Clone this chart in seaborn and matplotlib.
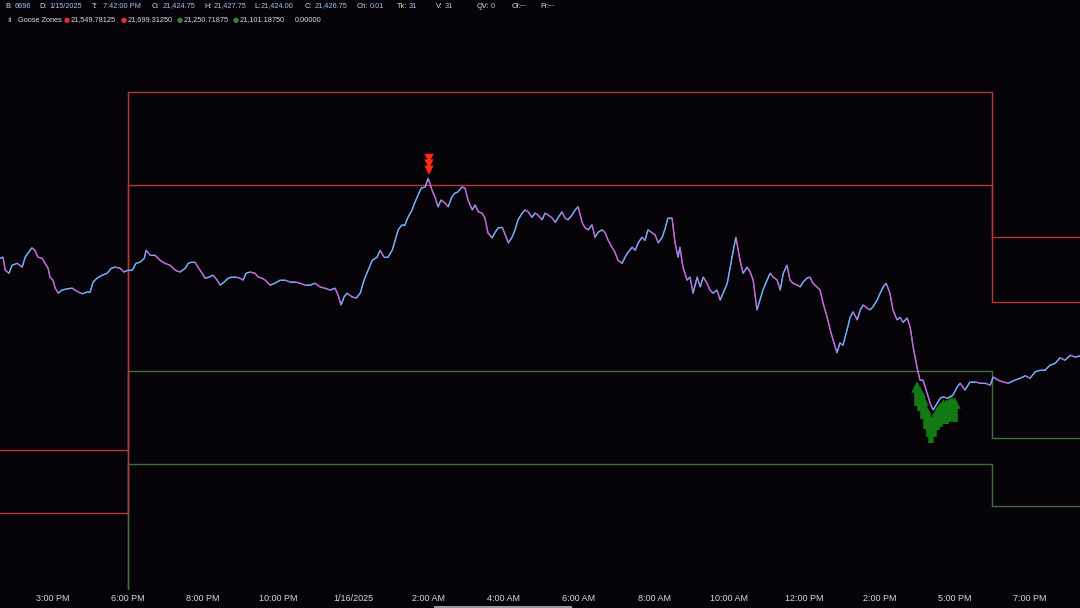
import matplotlib
matplotlib.use("Agg")
import matplotlib.pyplot as plt
import seaborn as sns
from matplotlib.collections import LineCollection
from matplotlib.patches import Rectangle

# bar time in hours from the 6:00 PM session open (session break squeezed out)
hours = [
    -3.41, -3.33, -3.27, -3.17, -3.09, -2.95, -2.82, -2.74, -2.66, -2.56,
    -2.48, -2.40, -2.29, -2.21, -2.13, -2.08, -2.00, -1.94, -1.86, -1.76,
    -1.62, -1.49, -1.36, -1.22, -1.09, -1.01, -0.93, -0.83, -0.69, -0.56,
    -0.45, -0.35, -0.21, -0.11, 0.00, 0.11, 0.21, 0.32, 0.43, 0.48,
    0.59, 0.72, 0.85, 0.98, 1.12, 1.25, 1.38,
    1.52, 1.60, 1.70, 1.78, 1.86, 1.97, 2.05, 2.16, 2.26, 2.37,
    2.45, 2.56, 2.66, 2.77, 2.87, 2.98, 3.06, 3.14, 3.25, 3.38,
    3.46, 3.57, 3.65, 3.78, 3.91, 4.05, 4.18, 4.31, 4.45, 4.58,
    4.71, 4.84, 4.98, 5.11, 5.24, 5.38, 5.51, 5.59, 5.67, 5.75,
    5.83, 5.96, 6.07, 6.18,
    6.28, 6.39, 6.50, 6.63, 6.71, 6.81, 6.92, 7.03, 7.11, 7.19,
    7.29, 7.37, 7.45, 7.56, 7.64, 7.72, 7.80, 7.91, 7.99, 8.09,
    8.17, 8.25, 8.33, 8.44, 8.52, 8.62, 8.70, 8.78, 8.89, 8.97,
    9.05, 9.16, 9.24, 9.32, 9.42, 9.50, 9.58, 9.69, 9.77, 9.85,
    9.96, 10.04, 10.12, 10.22, 10.30, 10.38,
    10.49, 10.57, 10.65, 10.75, 10.83, 10.91, 11.02, 11.10, 11.18, 11.29,
    11.37, 11.45, 11.55, 11.63, 11.71, 11.82, 11.90, 11.98, 12.09, 12.17,
    12.25, 12.35, 12.43, 12.51, 12.62, 12.70, 12.78, 12.88, 12.96, 13.04,
    13.15, 13.23, 13.31, 13.42, 13.50, 13.58, 13.68, 13.76, 13.84, 13.95,
    14.03, 14.11, 14.22, 14.30, 14.37, 14.48,
    14.56, 14.64, 14.69, 14.77, 14.88, 14.96, 15.04, 15.15, 15.23, 15.31,
    15.41, 15.49, 15.57, 15.68, 15.76, 15.84, 15.95, 16.03, 16.11, 16.18,
    16.29, 16.37, 16.48, 16.56, 16.64, 16.74, 16.82, 16.90, 17.01, 17.09,
    17.17, 17.28, 17.36, 17.44, 17.54, 17.62, 17.70, 17.81, 17.89, 17.97,
    18.07, 18.15, 18.23, 18.34, 18.42, 18.50, 18.61, 18.69, 18.77, 18.87,
    18.95,
    19.03, 19.14, 19.22, 19.30, 19.41, 19.49, 19.57, 19.67, 19.75, 19.83,
    19.94, 20.02, 20.10, 20.18, 20.28, 20.36, 20.47, 20.55, 20.63, 20.74,
    20.82, 20.90, 21.00, 21.08, 21.16, 21.27, 21.35, 21.43, 21.54, 21.62,
    21.70, 21.80, 21.88, 21.96, 22.07, 22.15, 22.28, 22.41, 22.55, 22.68,
    22.81, 22.95, 23.03, 23.16, 23.29, 23.43, 23.61, 23.75, 23.88, 24.01,
    24.14, 24.28, 24.41, 24.54, 24.68, 24.81, 24.94, 25.08, 25.21, 25.34,
]
prices = [
    21432, 21434, 21413, 21408, 21421, 21424, 21418, 21434, 21441, 21449,
    21445, 21434, 21432, 21424, 21416, 21402, 21397, 21384, 21376, 21381,
    21383, 21384, 21379, 21375, 21378, 21378, 21394, 21400, 21405, 21408,
    21416, 21418, 21416, 21410, 21413, 21413, 21424, 21426, 21432, 21445,
    21437, 21437, 21429, 21424, 21421, 21413, 21410,
    21416, 21424, 21426, 21426, 21418, 21408, 21400, 21402, 21405, 21397,
    21389, 21394, 21400, 21402, 21402, 21400, 21397, 21408, 21410, 21408,
    21402, 21400, 21397, 21389, 21392, 21397, 21397, 21394, 21394, 21392,
    21389, 21389, 21392, 21386, 21384, 21381, 21384, 21373, 21357, 21370,
    21376, 21370, 21368, 21376,
    21397, 21413, 21429, 21434, 21445, 21434, 21434, 21445, 21461, 21478,
    21486, 21486, 21498, 21510, 21523, 21534, 21545, 21547, 21561, 21542,
    21531, 21515, 21526, 21521, 21515, 21531, 21537, 21539, 21547, 21545,
    21526, 21510, 21518, 21507, 21505, 21497, 21473, 21465, 21474, 21481,
    21482, 21470, 21457, 21466, 21478, 21494,
    21505, 21510, 21507, 21498, 21505, 21502, 21494, 21505, 21502, 21497,
    21490, 21498, 21507, 21497, 21494, 21502, 21510, 21515, 21489, 21481,
    21478, 21486, 21466, 21474, 21478, 21473, 21461, 21450, 21442, 21429,
    21424, 21434, 21442, 21450, 21445, 21457, 21466, 21461, 21478, 21473,
    21470, 21457, 21466, 21481, 21497, 21497,
    21457, 21434, 21450, 21418, 21397, 21402, 21376, 21402, 21386, 21402,
    21392, 21381, 21376, 21381, 21365, 21376, 21392, 21418, 21445, 21466,
    21429, 21408, 21418, 21410, 21397, 21349, 21365, 21381, 21397, 21408,
    21402, 21397, 21381, 21408, 21421, 21397, 21392, 21389, 21386, 21394,
    21400, 21402, 21392, 21386, 21381, 21360, 21337, 21317, 21300, 21280,
    21296,
    21292, 21317, 21337, 21346, 21333, 21349, 21357, 21352, 21349, 21354,
    21365, 21376, 21386, 21392, 21376, 21349, 21333, 21337, 21329, 21336,
    21321, 21289, 21257, 21236, 21236, 21215, 21199, 21188, 21199, 21207,
    21209, 21207, 21209, 21212, 21225, 21231, 21220, 21233, 21233, 21231,
    21231, 21228, 21241, 21236, 21233, 21231, 21236, 21239, 21243, 21239,
    21249, 21252, 21252, 21260, 21263, 21272, 21268, 21276, 21273, 21275,
]

# Goose Zones per session (steps at the session opens)
session_edges = [-3.6, 0.0, 23.0, 25.6]
red_upper = [21123.0, 21699.3125, 21466.0, 21466.0]
red_lower = [21022.0, 21549.78125, 21362.0, 21362.0]
green_upper = [20830.0, 21250.71875, 21143.0, 21143.0]
green_lower = [20700.0, 21101.1875, 21033.0, 21033.0]

# signal arrows
sell_hours = [8.01, 8.01, 8.01]
sell_prices = [21593, 21584, 21574]
buy_hours = [21.00, 21.08, 21.16, 21.24, 21.32, 21.38, 21.46, 21.54,
             21.62, 21.70, 21.78, 21.86, 21.93, 22.01]
buy_prices = [21225, 21217, 21204, 21188, 21175, 21164, 21175, 21185,
              21191, 21196, 21196, 21199, 21201, 21199]

tick_hours = [-2, 0, 2, 4, 6, 8, 10, 12, 14, 16, 18, 20, 22, 24]
tick_labels = ["3:00 PM", "6:00 PM", "8:00 PM", "10:00 PM", "1/16/2025",
               "2:00 AM", "4:00 AM", "6:00 AM", "8:00 AM", "10:00 AM",
               "12:00 PM", "2:00 PM", "5:00 PM", "7:00 PM"]

bg = "#060408"
sns.set_style("dark", {"axes.facecolor": bg, "figure.facecolor": bg})
plt.rcParams["font.family"] = ["Liberation Sans", "DejaVu Sans"]

W, H = 1080, 608
fig = plt.figure(figsize=(W / 100, H / 100), dpi=100)
ax = fig.add_axes([0, 18 / H, 1, 562 / H])
ax.set_facecolor(bg)

# zone lines
zone_red = "#b53a32"
zone_green = "#3e6e3e"
for vals, col in [(green_lower, zone_green), (green_upper, zone_green),
                  (red_lower, zone_red), (red_upper, zone_red)]:
    sns.lineplot(x=session_edges, y=vals, drawstyle="steps-post",
                 color=col, lw=1.0, ax=ax)

# price line: lavender base, then up/down coloured segments
sns.lineplot(x=hours, y=prices, color="#9088ee", lw=1.0, sort=False, ax=ax)
segs, cols = [], []
for i in range(1, len(hours)):
    segs.append([(hours[i - 1], prices[i - 1]), (hours[i], prices[i])])
    cols.append("#5cc0f8" if prices[i] >= prices[i - 1] else "#dc5ccc")
ax.add_collection(LineCollection(segs, colors=cols, linewidths=0.8, alpha=0.9))

# buy arrows (green) and sell arrows (red)
ax.vlines(buy_hours, [p - 30 for p in buy_prices], buy_prices,
          color="#127a12", lw=4)
sns.scatterplot(x=buy_hours, y=buy_prices, marker="^", s=70,
                color="#127a12", edgecolor="none", ax=ax)
sns.scatterplot(x=sell_hours, y=sell_prices, marker="v", s=45,
                color="#ff2a12", edgecolor="none", ax=ax)

ax.set_xlim(-3.41, 25.34)
ax.set_ylim(20898, 21803)
ax.set_xticks(tick_hours)
ax.set_xticklabels(tick_labels, va="center")
ax.tick_params(axis="x", colors="#d8d8d8", labelsize=6.5, length=0, pad=5.8)
ax.set_yticks([])
ax.set_xlabel("")
ax.set_ylabel("")
ax.grid(False)
for s in ax.spines.values():
    s.set_visible(False)

# header rows
lab_col, val_col = "#dcdcdc", "#9cc4f0"
fs = 5.3
header = [("B:", "6696", 5, 15), ("D:", "1/15/2025", 39, 49),
          ("T:", "7:42:00 PM", 92, 103), ("O:", "21,424.75", 152, 163),
          ("H:", "21,427.75", 204, 214), ("L:", "21,424.00", 254, 261),
          ("C:", "21,426.75", 305, 315), ("Ch:", "0.01", 357, 370),
          ("Tk:", "31", 397, 409), ("V:", "31", 436, 445),
          ("QV:", "0", 477, 491), ("OI:", "---", 512, 520),
          ("Fr:", "---", 540, 548)]
for lab, val, xl, xv in header:
    fig.text(xl / W, 1 - 6 / H, lab, color=lab_col, fontsize=fs, va="center")
    fig.text(xv / W, 1 - 6 / H, val, color=val_col, fontsize=fs, va="center")

fig.text(7 / W, 1 - 20 / H, "ıl", color="#bdbdbd", fontsize=6, va="center")
fig.text(18 / W, 1 - 20 / H, "Goose Zones", color=lab_col, fontsize=fs, va="center")
legend_items = [("#e03030", "21,549.78125", 64), ("#e03030", "21,699.31250", 121),
                ("#2f8a2f", "21,250.71875", 177), ("#2f8a2f", "21,101.18750", 233)]
for col, txt, xd in legend_items:
    fig.text(xd / W, 1 - 20 / H, "●", color=col, fontsize=5, va="center",
             family="DejaVu Sans")
    fig.text((xd + 7) / W, 1 - 20 / H, txt, color=lab_col, fontsize=fs, va="center")
fig.text(295 / W, 1 - 20 / H, "0.00000", color=lab_col, fontsize=fs, va="center")

# scroll bar sliver at the bottom
fig.patches.append(Rectangle((434 / W, 0), 138 / W, 2.5 / H, transform=fig.transFigure,
                             facecolor="#9a9a9a", edgecolor="none"))

fig.savefig("out.png", dpi=100, facecolor=bg)
